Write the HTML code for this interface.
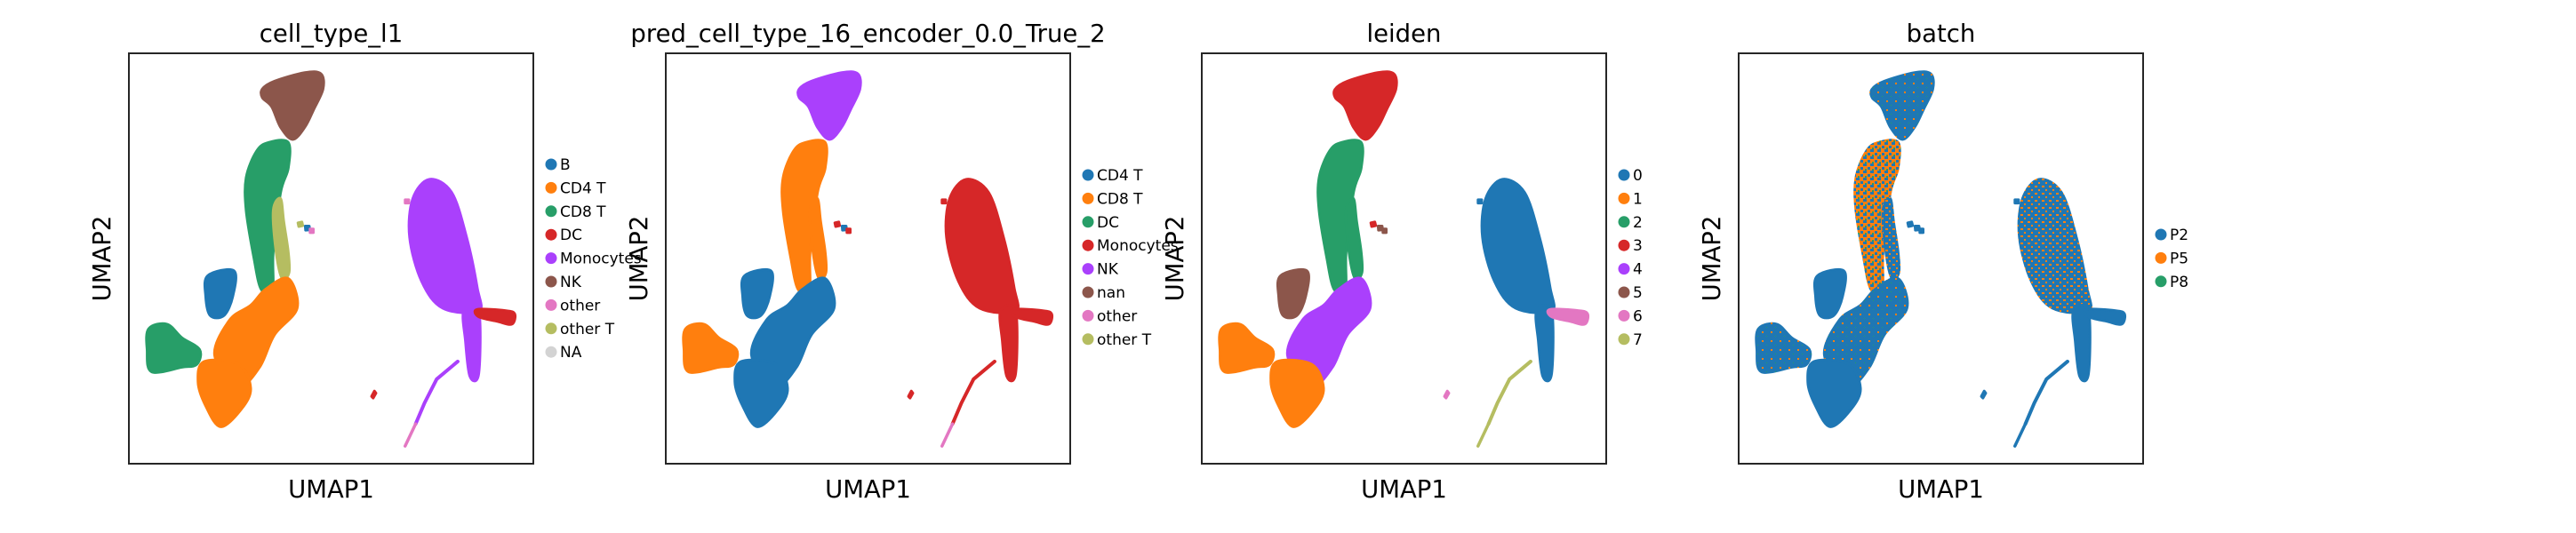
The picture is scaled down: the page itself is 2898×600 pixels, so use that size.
<!DOCTYPE html>
<html><head><meta charset="utf-8">
<style>
html,body{margin:0;padding:0;background:#fff;}
svg{display:block;font-family:"DejaVu Sans","Liberation Sans",sans-serif;}
</style></head>
<body>
<svg id="fig" width="2898" height="600" viewBox="0 0 2898 600" xmlns="http://www.w3.org/2000/svg">
<defs>
<pattern id="mixHeavy" width="8" height="8" patternUnits="userSpaceOnUse">
<rect width="8" height="8" fill="#ff7f0e"/><rect x="0" y="0" width="4" height="3" fill="#1f77b4"/><rect x="5" y="4" width="3" height="3" fill="#1f77b4"/><rect x="2" y="6" width="2" height="2" fill="#279e68"/>
</pattern>
<pattern id="mixMed" width="8" height="8" patternUnits="userSpaceOnUse">
<rect width="8" height="8" fill="#1f77b4"/><rect x="1" y="1" width="3" height="2" fill="#ff7f0e"/><rect x="5" y="5" width="2" height="2" fill="#ff7f0e"/>
</pattern>
<pattern id="mixLight" width="10" height="10" patternUnits="userSpaceOnUse">
<rect width="10" height="10" fill="#1f77b4"/><rect x="2" y="3" width="2" height="2" fill="#ff7f0e"/><rect x="7" y="8" width="1" height="1" fill="#279e68"/>
</pattern>
</defs>
</svg>
<script>
// ---- data (UMAP coordinates, normalised to axis domain [0,1], y downward) ----
const panelTitles = ["cell_type_l1","pred_cell_type_16_encoder_0.0_True_2","leiden","batch"];
const panelLeft = [145, 749, 1352, 1956];
const legendLabels = [
  ["B","CD4 T","CD8 T","DC","Monocytes","NK","other","other T","NA"],
  ["CD4 T","CD8 T","DC","Monocytes","NK","nan","other","other T"],
  ["0","1","2","3","4","5","6","7"],
  ["P2","P5","P8"]
];
const legendColors = [
  ["#1f77b4","#ff7f0e","#279e68","#d62728","#aa40fc","#8c564b","#e377c2","#b5bd61","#d3d3d3"],
  ["#1f77b4","#ff7f0e","#279e68","#d62728","#aa40fc","#8c564b","#e377c2","#b5bd61"],
  ["#1f77b4","#ff7f0e","#279e68","#d62728","#aa40fc","#8c564b","#e377c2","#b5bd61"],
  ["#1f77b4","#ff7f0e","#279e68"]
];
const legendTop = [185, 197, 197, 264];
const regionNames = ["top-cluster","upper-stalk","stalk-band","b-blob","mid-cluster","bottom-blob","left-blob","monocyte-cluster","monocyte-tail","dc-cluster","tiny-cluster","small-dots-a","small-dots-b","small-dots-c","stray-dot"];
const regionShapes = [
  [[.33,.087],[.36,.068],[.435,.047],[.475,.05],[.48,.087],[.457,.137],[.435,.18],[.405,.21],[.375,.18],[.353,.13],[.33,.108]],
  [[.346,.217],[.394,.217],[.394,.28],[.375,.34],[.357,.484],[.355,.575],[.327,.575],[.309,.498],[.29,.383],[.29,.303],[.316,.238]],
  [[.375,.354],[.383,.411],[.394,.484],[.396,.534],[.379,.549],[.364,.484],[.357,.383]],
  [[.195,.542],[.26,.53],[.257,.592],[.235,.639],[.201,.639],[.19,.592]],
  [[.338,.575],[.394,.549],[.416,.621],[.36,.686],[.323,.765],[.272,.809],[.212,.736],[.249,.65],[.301,.614]],
  [[.186,.751],[.272,.758],[.301,.816],[.279,.866],[.227,.91],[.19,.859],[.171,.801]],
  [[.049,.671],[.094,.66],[.131,.693],[.175,.722],[.168,.758],[.131,.765],[.056,.776],[.045,.722]],
  [[.743,.307],[.798,.339],[.835,.448],[.861,.57],[.865,.628],[.776,.621],[.724,.556],[.694,.448],[.702,.354]],
  [[.828,.628],[.865,.628],[.865,.78],[.843,.787],[.832,.7]],
  [[.861,.624],[.932,.627],[.954,.635],[.947,.66],[.91,.653],[.865,.642]],
  [[.600,.836],[.607,.823],[.611,.828],[.604,.840]],
  [[.418,.413],[.428,.411],[.430,.420],[.420,.422]],
  [[.436,.421],[.446,.421],[.447,.430],[.437,.431]],
  [[.448,.428],[.456,.428],[.456,.437],[.448,.437]],
  [[.683,.357],[.692,.357],[.692,.365],[.683,.365]]
];
const regionColors = [
  ["#8c564b","#279e68","#b5bd61","#1f77b4","#ff7f0e","#ff7f0e","#279e68","#aa40fc","#aa40fc","#d62728","#d62728","#b5bd61","#1f77b4","#e377c2","#e377c2"],
  ["#aa40fc","#ff7f0e","#ff7f0e","#1f77b4","#1f77b4","#1f77b4","#ff7f0e","#d62728","#d62728","#d62728","#d62728","#d62728","#1f77b4","#d62728","#d62728"],
  ["#d62728","#279e68","#279e68","#8c564b","#aa40fc","#ff7f0e","#ff7f0e","#1f77b4","#1f77b4","#e377c2","#e377c2","#d62728","#8c564b","#8c564b","#1f77b4"],
  ["url(#mixLight)","url(#mixHeavy)","url(#mixMed)","#1f77b4","url(#mixLight)","#1f77b4","url(#mixLight)","url(#mixMed)","#1f77b4","#1f77b4","#1f77b4","#1f77b4","#1f77b4","#1f77b4","#1f77b4"]
];
const trailPoints = [[.813,.751],[.761,.794],[.731,.852],[.709,.903],[.683,.957]];
const trailColors = [["#aa40fc","#e377c2"],["#d62728","#e377c2"],["#b5bd61","#b5bd61"],["#1f77b4","#1f77b4"]];

// ---- layout ----
const AX_TOP = 60, AX_W = 455, AX_H = 462;
const NS = "http://www.w3.org/2000/svg";
const svg = document.getElementById("fig");
function mk(tag, attrs, parent){const e=document.createElementNS(NS,tag);for(const k in attrs)e.setAttribute(k,attrs[k]);(parent||svg).appendChild(e);return e;}
function xScale(p, v){return panelLeft[p] + v*AX_W;}
function yScale(v){return AX_TOP + v*AX_H;}
function smoothPath(pts){
  const n = pts.length;
  if (n < 5) return "M" + pts.map(q => q[0].toFixed(1)+","+q[1].toFixed(1)).join("L") + "Z";
  let d = "M" + pts[0][0].toFixed(1) + "," + pts[0][1].toFixed(1);
  for (let i = 0; i < n; i++){
    const p0 = pts[(i-1+n)%n], p1 = pts[i], p2 = pts[(i+1)%n], p3 = pts[(i+2)%n];
    const c1 = [p1[0]+(p2[0]-p0[0])/6, p1[1]+(p2[1]-p0[1])/6];
    const c2 = [p2[0]-(p3[0]-p1[0])/6, p2[1]-(p3[1]-p1[1])/6];
    d += "C"+c1[0].toFixed(1)+","+c1[1].toFixed(1)+" "+c2[0].toFixed(1)+","+c2[1].toFixed(1)+" "+p2[0].toFixed(1)+","+p2[1].toFixed(1);
  }
  return d + "Z";
}

panelTitles.forEach((title, p) => {
  const g = mk("g", {});
  
  
  const x0 = panelLeft[p];
  regionShapes.forEach((shape, r) => {
    const pts = shape.map(d => [xScale(p,d[0]), yScale(d[1])]);
    const path = mk("path", {d: smoothPath(pts), fill: regionColors[p][r], stroke: regionColors[p][r], "stroke-width": 3, "stroke-linejoin":"round"}, g);
    
    
  });
  const n = trailPoints.length;
  const upper = trailPoints.slice(0, n-1).map(d => xScale(p,d[0])+","+yScale(d[1])).join(" ");
  const tr1 = mk("polyline", {points: upper, fill:"none", stroke: trailColors[p][0], "stroke-width": 4, "stroke-linecap":"round", "stroke-linejoin":"round"}, g);
  
  
  const lower = trailPoints.slice(n-2).map(d => xScale(p,d[0])+","+yScale(d[1])).join(" ");
  const tr2 = mk("polyline", {points: lower, fill:"none", stroke: trailColors[p][1], "stroke-width": 3.5, "stroke-linecap":"round"}, g);
  
  
  const fr = mk("rect", {x: x0, y: AX_TOP, width: AX_W, height: AX_H, fill: "none", stroke: "#262626", "stroke-width": 2}, g);
  
  
  const t = mk("text", {x: x0 + AX_W/2, y: 47, "text-anchor":"middle", "font-size": 27.5, fill:"#000"}, g);
  t.textContent = title;
  
  
  const xl = mk("text", {x: x0 + AX_W/2, y: 560, "text-anchor":"middle", "font-size": 27.5, fill:"#000"}, g);
  xl.textContent = "UMAP1";
  
  
  const yl = mk("text", {x: 0, y: 0, "text-anchor":"middle", "font-size": 27.5, fill:"#000", transform:`translate(${x0-21},${AX_TOP+AX_H/2}) rotate(-90)`}, g);
  yl.textContent = "UMAP2";
  
  
  legendLabels[p].forEach((lab, i) => {
    const cy = legendTop[p] + i*26.4;
    const lg = mk("g", {}, g);
    
    
    mk("circle", {cx: x0 + AX_W + 20, cy: cy, r: 6.5, fill: legendColors[p][i]}, lg);
    const lt = mk("text", {x: x0 + AX_W + 30, y: cy + 6, "font-size": 17, fill:"#000"}, lg);
    lt.textContent = lab;
  });
});
</script>
</body></html>
